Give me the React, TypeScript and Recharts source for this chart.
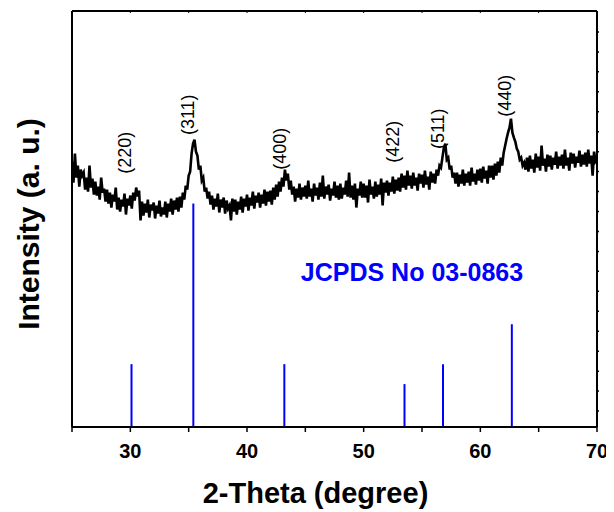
import React from 'react';
import { ComposedChart, Line, XAxis, YAxis, ReferenceLine, ReferenceDot, Label } from 'recharts';

const FONT = '"Liberation Sans", Arial, Helvetica, sans-serif';

const startAngle = 25;
const angleStep = 0.125;
// measured intensity (arbitrary units), one row per degree, 8 samples per degree
const intensity = [
  266, 245, 274, 250, 262, 241, 258, 252,
  255, 238, 250, 236, 262, 240, 249, 233,
  246, 232, 241, 228, 250, 235, 239, 226,
  238, 224, 235, 220, 233, 226, 240, 218,
  230, 216, 228, 221, 234, 213, 229, 222,
  232, 219, 235, 227, 240, 231, 237, 207,
  226, 212, 224, 215, 228, 210, 223, 217,
  225, 209, 222, 214, 227, 211, 220, 213,
  226, 210, 224, 216, 229, 213, 227, 218,
  230, 216, 231, 220, 235, 228, 242, 238,
  252, 256, 274, 284, 288, 276, 272, 258,
  262, 247, 250, 236, 240, 229, 236, 223,
  232, 218, 229, 221, 234, 215, 228, 220,
  230, 214, 227, 219, 222, 207, 229, 216,
  228, 213, 226, 218, 231, 215, 229, 221,
  233, 217, 230, 222, 236, 219, 232, 225,
  235, 220, 233, 224, 238, 222, 236, 226,
  237, 223, 240, 228, 243, 231, 246, 236,
  250, 241, 258, 247, 254, 238, 247, 233,
  241, 226, 239, 230, 244, 228, 240, 231,
  242, 229, 247, 231, 239, 226, 244, 232,
  240, 228, 245, 231, 252, 229, 241, 233,
  243, 227, 239, 232, 246, 230, 242, 228,
  244, 229, 240, 233, 247, 231, 255, 230,
  242, 228, 244, 220, 239, 232, 246, 230,
  244, 230, 242, 225, 248, 233, 241, 229,
  246, 231, 243, 233, 249, 222, 245, 235,
  247, 232, 245, 236, 251, 234, 248, 237,
  250, 236, 254, 240, 252, 238, 257, 242,
  252, 239, 255, 242, 250, 237, 254, 244,
  253, 240, 257, 243, 251, 238, 256, 245,
  254, 244, 258, 252, 262, 260, 270, 280,
  284, 268, 270, 258, 262, 250, 255, 244,
  255, 241, 253, 244, 258, 242, 254, 245,
  256, 242, 260, 246, 254, 243, 258, 247,
  259, 245, 261, 249, 257, 244, 262, 250,
  262, 248, 264, 252, 266, 255, 270, 262,
  275, 282, 289, 295, 300, 309, 295, 290,
  286, 279, 276, 268, 270, 262, 265, 258,
  270, 256, 272, 259, 268, 255, 274, 260,
  271, 257, 282, 262, 269, 256, 273, 261,
  272, 258, 270, 263, 276, 259, 271, 262,
  273, 259, 278, 262, 270, 257, 275, 264,
  274, 260, 271, 265, 277, 261, 273, 263,
  275, 261, 278, 264, 272, 252, 276, 266,
  268,
];

// JCPDS 03-0863 reference lines
const stickPositions = [30.1, 35.4, 43.2, 53.5, 56.8, 62.7];
const stickHeights = [63, 224, 63, 43, 63, 103];

// Miller index labels
const peakLabels = ['(220)', '(311)', '(400)', '(422)', '(511)', '(440)'];
const peakLabelX = [29.54, 34.94, 42.83, 52.51, 56.37, 62.11];
const peakLabelY = [275, 313, 279, 286, 299, 332];

const xTicks = [25, 30, 35, 40, 45, 50, 55, 60, 65, 70];
const rightTicks = [16, 36, 56, 76, 96, 116, 136, 156, 176, 196, 216, 236, 256, 276, 296, 316, 336, 356, 376, 396];
const yDomain = [0, 417];

const data = intensity.map((v, i) => ({ theta: startAngle + i * angleStep, intensity: v }));

export default function App() {
  return (
    <ComposedChart
      width={606}
      height={504}
      data={data}
      margin={{ top: 3, right: 7, bottom: 0, left: 0 }}
    >
      <XAxis
        dataKey="theta"
        type="number"
        domain={[25, 70]}
        ticks={xTicks}
        interval={0}
        allowDataOverflow
        height={85}
        axisLine={{ stroke: '#000', strokeWidth: 2 }}
        tickLine={{ stroke: '#000', strokeWidth: 1.5 }}
        tickSize={5}
        tickMargin={12}
        tick={{ fill: '#000', fontSize: 20, fontWeight: 'bold', fontFamily: FONT }}
        tickFormatter={(v: number) => (v % 10 === 0 ? String(v) : '')}
      >
        <Label
          content={(props: any) => {
            const vb = props.viewBox || {};
            return (
              <text
                x={vb.x + vb.width / 2 - 19}
                y={vb.y + 66}
                textAnchor="middle"
                dominantBaseline="central"
                fontSize={29}
                fontWeight="bold"
                fontFamily={FONT}
                fill="#000"
              >
                2-Theta (degree)
              </text>
            );
          }}
        />
      </XAxis>
      <XAxis
        xAxisId="top"
        dataKey="theta"
        type="number"
        orientation="top"
        domain={[25, 70]}
        ticks={xTicks}
        interval={0}
        height={1}
        mirror
        axisLine={{ stroke: '#000', strokeWidth: 2 }}
        tickLine={{ stroke: '#000', strokeWidth: 1 }}
        tickSize={2}
        tickFormatter={() => ''}
      />
      <YAxis
        yAxisId="left"
        type="number"
        domain={yDomain}
        allowDataOverflow
        width={64}
        axisLine={{ stroke: '#000', strokeWidth: 2 }}
        tick={false}
        tickLine={false}
      >
        <Label
          content={(props: any) => {
            const vb = props.viewBox || {};
            const cx = 20;
            const cy = vb.y + vb.height / 2 + 5;
            return (
              <text
                x={cx}
                y={cy}
                transform={`rotate(-90 ${cx} ${cy})`}
                textAnchor="middle"
                dominantBaseline="central"
                fontSize={30}
                fontWeight="bold"
                fontFamily={FONT}
                fill="#000"
              >
                Intensity (a. u.)
              </text>
            );
          }}
        />
      </YAxis>
      <YAxis
        yAxisId="right"
        orientation="right"
        type="number"
        domain={yDomain}
        ticks={rightTicks}
        interval={0}
        allowDataOverflow
        width={10}
        axisLine={{ stroke: '#000', strokeWidth: 2 }}
        tickLine={{ stroke: '#000', strokeWidth: 1.5 }}
        tickSize={2}
        tickFormatter={() => ''}
      />
      {stickPositions.map((p, i) => (
        <ReferenceLine
          key={'stick' + i}
          yAxisId="left"
          segment={[{ x: p, y: 0 }, { x: p, y: stickHeights[i] }]}
          stroke="#0000ff"
          strokeWidth={2}
          ifOverflow="visible"
        />
      ))}
      <ReferenceLine
        yAxisId="left"
        segment={[{ x: 25, y: 417 }, { x: 70, y: 417 }]}
        stroke="#000"
        strokeWidth={2}
        ifOverflow="visible"
      />
      <Line
        yAxisId="left"
        dataKey="intensity"
        type="linear"
        stroke="#000"
        strokeWidth={2.6}
        dot={false}
        isAnimationActive={false}
      />
      {peakLabels.map((t, i) => (
        <ReferenceDot
          key={'lbl' + i}
          yAxisId="left"
          x={peakLabelX[i]}
          y={peakLabelY[i]}
          r={0}
          ifOverflow="visible"
          shape={(props: any) => (
            <text
              x={props.cx}
              y={props.cy}
              transform={`rotate(-90 ${props.cx} ${props.cy})`}
              textAnchor="middle"
              dominantBaseline="central"
              fontSize={18}
              fontFamily={FONT}
              fill="#000"
            >
              {t}
            </text>
          )}
        />
      ))}
      <ReferenceDot
        yAxisId="left"
        x={54.14}
        y={155}
        r={0}
        ifOverflow="visible"
        shape={(props: any) => (
          <text
            x={props.cx}
            y={props.cy}
            textAnchor="middle"
            dominantBaseline="central"
            fontSize={25}
            fontWeight="bold"
            fontFamily={FONT}
            fill="#0000ff"
          >
            JCPDS No 03-0863
          </text>
        )}
      />
    </ComposedChart>
  );
}
